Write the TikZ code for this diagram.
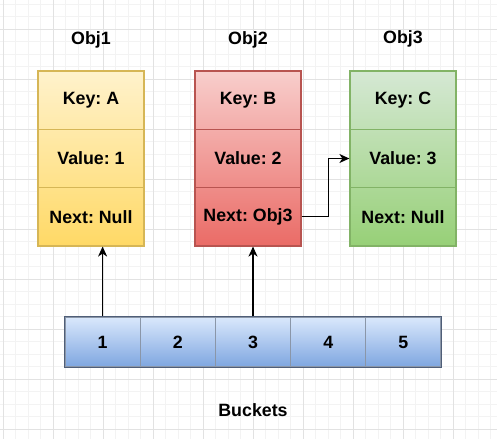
\documentclass[tikz,border=0pt]{standalone}
\usepackage{fontspec}
\setmainfont{Liberation Sans}
\usetikzlibrary{positioning,calc,arrows.meta}
\frenchspacing

\definecolor{yellowtop}{HTML}{FFF2CC}
\definecolor{yellowbot}{HTML}{FFD966}
\definecolor{yellowline}{HTML}{D6B656}
\definecolor{redtop}{HTML}{F8CECC}
\definecolor{redbot}{HTML}{EA6B66}
\definecolor{redline}{HTML}{B85450}
\definecolor{greentop}{HTML}{D5E8D4}
\definecolor{greenbot}{HTML}{97D077}
\definecolor{greenline}{HTML}{82B366}
\definecolor{bluetop}{HTML}{DAE8FC}
\definecolor{bluebot}{HTML}{7EA6E0}
\definecolor{blueline}{HTML}{4F5E78}
\definecolor{bluediv}{HTML}{8A96A8}
\definecolor{minorgrid}{HTML}{F3F3F3}
\definecolor{majorgrid}{HTML}{E2E2E2}

\newcommand{\entryfont}{\fontsize{17.8}{21}\selectfont\bfseries}

\tikzset{
  field/.style={draw=#1, line width=1.2pt, minimum width=106pt, minimum height=58.3pt,
    inner sep=0pt, font=\entryfont},
  bucket/.style={draw=bluediv, line width=1.2pt, minimum width=75.2pt, minimum height=50pt,
    inner sep=0pt, font=\entryfont},
  title/.style={font=\entryfont},
  pointer/.style={line width=1.3pt, -{Stealth[length=10pt,width=9pt,inset=3pt]}}
}

\begin{document}
\begin{tikzpicture}[x=1pt,y=-1pt]
    \useasboundingbox (0,0) rectangle (497,439);
    \fill[white] (0,0) rectangle (497,439);

    % Grid
    \foreach \k in {0,...,39} \draw[minorgrid, line width=1pt] ({3.3+12.5*\k},0) -- ++(0,439);
    \foreach \k in {0,...,34} \draw[minorgrid, line width=1pt] (0,{4.3+12.5*\k}) -- ++(497,0);
    \foreach \k in {0,...,9} \draw[majorgrid, line width=1pt] ({3.3+50*\k},0) -- ++(0,439);
    \foreach \k in {0,...,8} \draw[majorgrid, line width=1pt] (0,{29.3+50*\k}) -- ++(497,0);

    % Obj1
    \node[title] (t1) at (91,40) {Obj1};
    \shade[top color=yellowtop, bottom color=yellowbot] (38,71) rectangle (144,246);
    \node[field=yellowline] (o1key) at (91,100.2) {Key: A};
    \node[field=yellowline] (o1val) at (91,158.5) {Value: 1};
    \node[field=yellowline] (o1next) at (91,216.8) {Next: Null};

    % Obj2
    \node[title] (t2) at (248,40) {Obj2};
    \shade[top color=redtop, bottom color=redbot] (195,71) rectangle (301,246);
    \node[field=redline] (o2key) at (248,100.2) {Key: B};
    \node[field=redline] (o2val) at (248,158.5) {Value: 2};
    \node[field=redline] (o2next) at (248,216.8) {Next: Obj3};

    % Obj3
    \node[title] (t3) at (403,39) {Obj3};
    \shade[top color=greentop, bottom color=greenbot] (350,71) rectangle (456,246);
    \node[field=greenline] (o3key) at (403,100.2) {Key: C};
    \node[field=greenline] (o3val) at (403,158.5) {Value: 3};
    \node[field=greenline] (o3next) at (403,216.8) {Next: Null};

    % Buckets
    \shade[top color=bluetop, bottom color=bluebot] (65,317) rectangle (441,367);
    \foreach \i in {1,...,5} {
        \node[bucket] (b\i) at ({65+75.2*(\i-0.5)},342) {\i};
    }
    \draw[blueline, line width=1.2pt] (b1.north west) rectangle (b5.south east);
    \node[title] (blabel) at (253,410) {Buckets};

    % Pointers
    \draw[pointer] (b1.north) -- (b1.north |- o1next.south);
    \draw[pointer] (b3.north) -- (b3.north |- o2next.south);
    \draw[pointer] (o2next.east) -- ++(27,0) |- (o3val.west);
\end{tikzpicture}
\end{document}
